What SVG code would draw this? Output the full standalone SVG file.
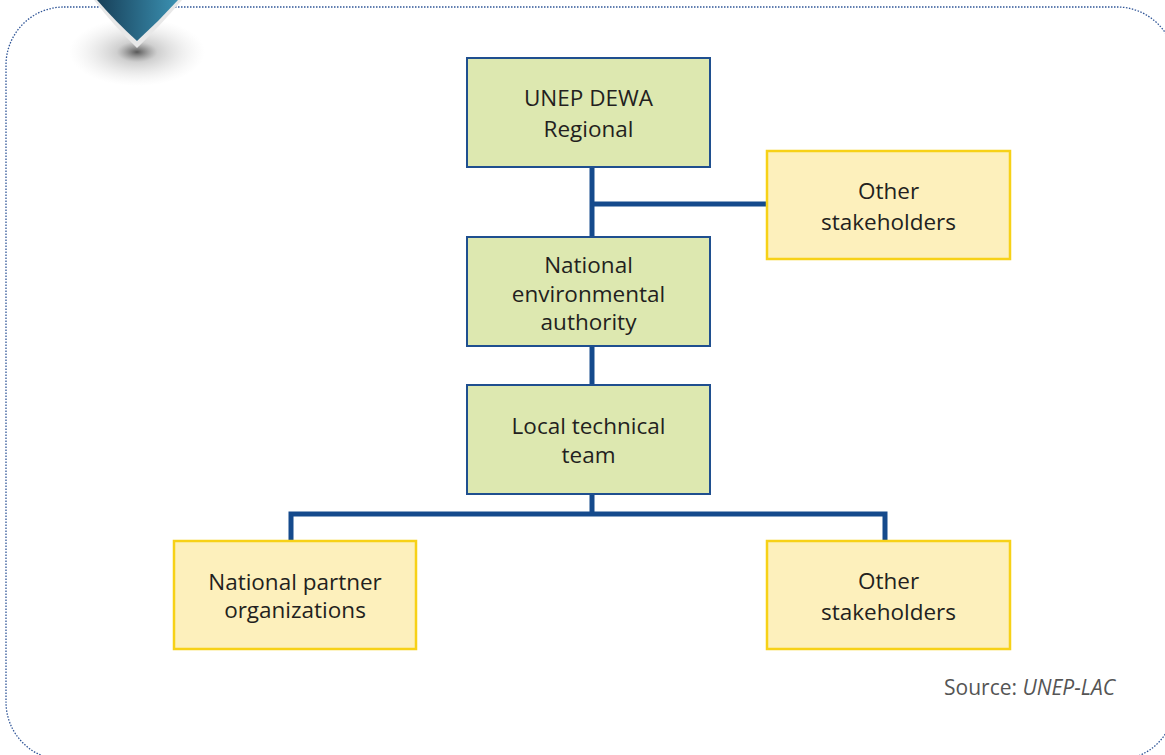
<svg xmlns="http://www.w3.org/2000/svg" width="1165" height="755" viewBox="0 0 1165 755">
<defs>
<style>
.g{fill:#dde8b0;stroke:#1f4f8f;stroke-width:2}
.y{fill:#fdf0bc;stroke:#f7d117;stroke-width:2.5}
.t{font-family:"Open Sans","Noto Sans","Liberation Sans",sans-serif;font-size:22.5px;fill:#231f20;text-anchor:middle}
.c{fill:none;stroke:#154a8c;stroke-width:5;stroke-linejoin:miter}
</style>
<radialGradient id="sh" cx="0.5" cy="0.5" r="0.5">
<stop offset="0" stop-color="#3a3a3a" stop-opacity="0.85"/>
<stop offset="0.3" stop-color="#888" stop-opacity="0.4"/>
<stop offset="1" stop-color="#ccc" stop-opacity="0"/>
</radialGradient>
<linearGradient id="tl" x1="0" y1="0" x2="1" y2="0">
<stop offset="0" stop-color="#173f58"/>
<stop offset="1" stop-color="#3b91b2"/>
</linearGradient>
</defs>
<rect x="6" y="7" width="1169" height="753" rx="58" ry="58" fill="none" stroke="#2f5597" stroke-width="1.3" stroke-dasharray="1.5 1.5"/>
<g id="badge">
<ellipse cx="137" cy="52" rx="68" ry="34" fill="url(#sh)"/>
<path d="M94,0 L182,0 Q160,26 137,48 Q114,26 94,0 Z" fill="#e8e8e8"/>
<path d="M97,0 L178,0 Q158,22 137,41 Q116,22 97,0 Z" fill="url(#tl)"/>
</g>
<g id="connectors">
<path class="c" d="M592,167 V237"/>
<path class="c" d="M592,204 H767"/>
<path class="c" d="M592,346 V384"/>
<path class="c" d="M592,494 V514 M291,540 V514 H885 V540"/>
</g>
<g id="n1">
<rect class="g" x="467" y="58" width="243" height="109"/>
<text class="t" x="588.5" y="106">UNEP DEWA</text>
<text class="t" x="588.5" y="137">Regional</text>
</g>
<g id="n2">
<rect class="y" x="767" y="151" width="243" height="108"/>
<text class="t" x="888.5" y="199">Other</text>
<text class="t" x="888.5" y="230">stakeholders</text>
</g>
<g id="n3">
<rect class="g" x="467" y="237" width="243" height="109"/>
<text class="t" x="588.5" y="273">National</text>
<text class="t" x="588.5" y="302">environmental</text>
<text class="t" x="588.5" y="330">authority</text>
</g>
<g id="n4">
<rect class="g" x="467" y="385" width="243" height="109"/>
<text class="t" x="588.5" y="434">Local technical</text>
<text class="t" x="588.5" y="463">team</text>
</g>
<g id="n5">
<rect class="y" x="174" y="541" width="242" height="108"/>
<text class="t" x="295" y="590">National partner</text>
<text class="t" x="295" y="618">organizations</text>
</g>
<g id="n6">
<rect class="y" x="767" y="541" width="243" height="108"/>
<text class="t" x="888.5" y="589">Other</text>
<text class="t" x="888.5" y="620">stakeholders</text>
</g>
<text x="1115" y="695" font-family="'Open Sans','Noto Sans',sans-serif" font-size="21" fill="#555" text-anchor="end">Source: <tspan font-style="italic">UNEP-LAC</tspan></text>
</svg>
